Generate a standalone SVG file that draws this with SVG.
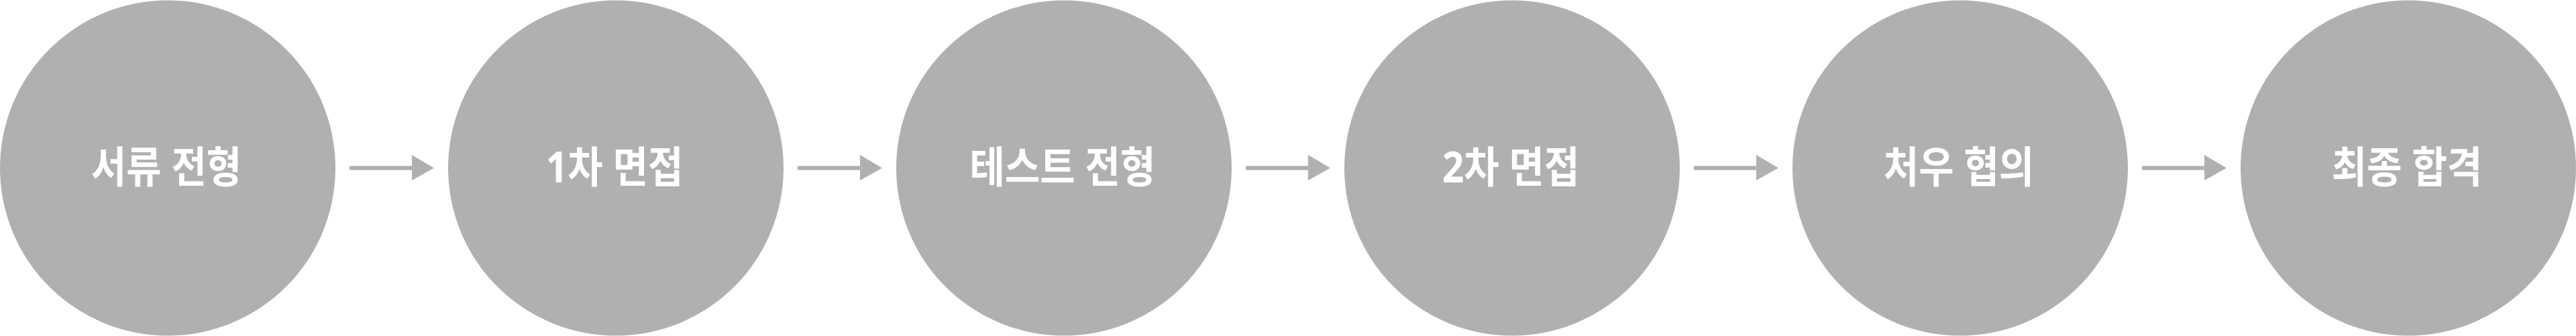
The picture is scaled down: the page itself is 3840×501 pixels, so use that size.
<svg xmlns="http://www.w3.org/2000/svg" width="3840" height="501" viewBox="0 0 3840 501">
<defs>
<style>
.node circle{fill:#b0b0b0}
.node text{fill:#ffffff;font-family:"Noto Sans","Noto Sans CJK KR",sans-serif;font-weight:700;font-size:57px;text-anchor:middle}
.conn line{stroke:#b0b0b0;stroke-width:6}
.conn polygon{fill:#b0b0b0}
</style>
</defs>
<rect width="3840" height="501" fill="#ffffff"/>
<g id="node1" class="node"><circle cx="250" cy="250.5" r="250"/><text transform="scale(1,1.12)" x="248" y="243.3">서류 전형</text></g>
<g id="node2" class="node"><circle cx="918" cy="250.5" r="250"/><text transform="scale(1,1.12)" x="916" y="243.3">1차 면접</text></g>
<g id="node3" class="node"><circle cx="1586" cy="250.5" r="250"/><text transform="scale(1,1.12)" x="1584" y="243.3">테스트 전형</text></g>
<g id="node4" class="node"><circle cx="2254" cy="250.5" r="250"/><text transform="scale(1,1.12)" x="2252" y="243.3">2차 면접</text></g>
<g id="node5" class="node"><circle cx="2922" cy="250.5" r="250"/><text transform="scale(1,1.12)" x="2920" y="243.3">처우 협의</text></g>
<g id="node6" class="node"><circle cx="3590" cy="250.5" r="250"/><text transform="scale(1,1.12)" x="3588" y="243.3">최종 합격</text></g>
<g id="connectors" class="conn">
<line x1="521" y1="250.5" x2="616" y2="250.5"/><polygon points="614,231 647,250.5 614,269"/>
<line x1="1189" y1="250.5" x2="1284" y2="250.5"/><polygon points="1282,231 1315,250.5 1282,269"/>
<line x1="1857" y1="250.5" x2="1952" y2="250.5"/><polygon points="1950,231 1983,250.5 1950,269"/>
<line x1="2525" y1="250.5" x2="2620" y2="250.5"/><polygon points="2618,231 2651,250.5 2618,269"/>
<line x1="3193" y1="250.5" x2="3288" y2="250.5"/><polygon points="3286,231 3319,250.5 3286,269"/>
</g>
</svg>
